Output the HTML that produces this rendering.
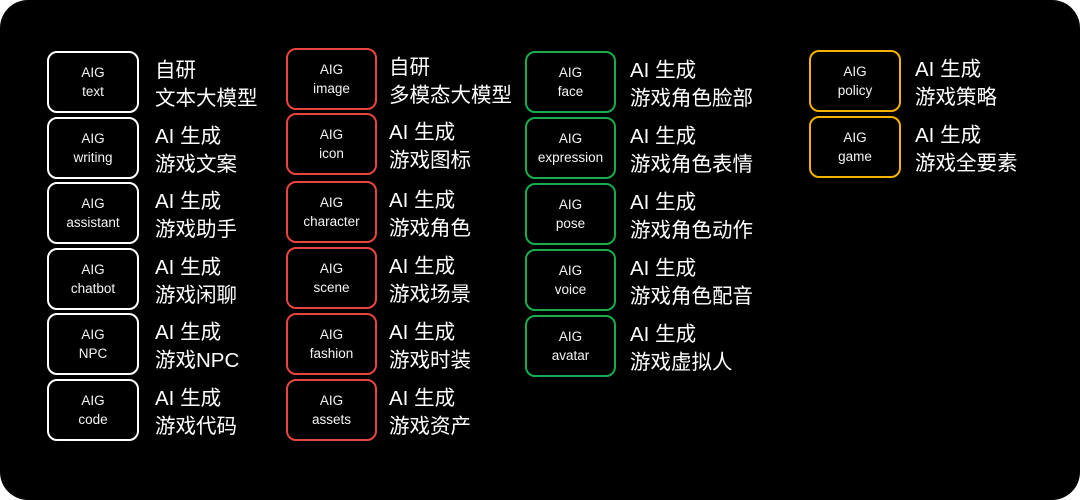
<!DOCTYPE html>
<html>
<head>
<meta charset="utf-8">
<style>
  html,body{margin:0;padding:0;background:#fff;}
  body{width:1080px;height:500px;position:relative;overflow:hidden;}
  .bg{position:absolute;left:0;top:0;width:1080px;height:500px;background:#000;border-radius:28px;}
  .box{position:absolute;box-sizing:border-box;height:62px;border:2px solid #fff;border-radius:10px;}
  .box .t{position:absolute;left:0;right:0;top:10px;text-align:center;color:#f4f4f4;
    font-family:"Liberation Sans",sans-serif;font-size:13.5px;line-height:19px;}
  .w{border-color:#ffffff;}
  .r{border-color:#e8453f;}
  .g{border-color:#17ad4c;}
  .y{border-color:#f2b200;}
  .lb{position:absolute;color:#fff;font-family:"Liberation Sans","Noto Sans CJK SC",sans-serif;
    font-size:20.5px;line-height:28px;white-space:nowrap;}
</style>
</head>
<body>
<div class="bg"></div>

<!-- Column 1 (white) -->
<div class="box w" style="left:47px;top:51px;width:92px;"><div class="t">AIG<br>text</div></div>
<div class="lb" style="left:155px;top:57px;">自研<br>文本大模型</div>

<div class="box w" style="left:47px;top:117px;width:92px;"><div class="t">AIG<br>writing</div></div>
<div class="lb" style="left:155px;top:123px;">AI 生成<br>游戏文案</div>

<div class="box w" style="left:47px;top:182px;width:92px;"><div class="t">AIG<br>assistant</div></div>
<div class="lb" style="left:155px;top:188px;">AI 生成<br>游戏助手</div>

<div class="box w" style="left:47px;top:248px;width:92px;"><div class="t">AIG<br>chatbot</div></div>
<div class="lb" style="left:155px;top:254px;">AI 生成<br>游戏闲聊</div>

<div class="box w" style="left:47px;top:313px;width:92px;"><div class="t">AIG<br>NPC</div></div>
<div class="lb" style="left:155px;top:319px;">AI 生成<br>游戏NPC</div>

<div class="box w" style="left:47px;top:379px;width:92px;"><div class="t">AIG<br>code</div></div>
<div class="lb" style="left:155px;top:385px;">AI 生成<br>游戏代码</div>

<!-- Column 2 (red) -->
<div class="box r" style="left:286px;top:48px;width:91px;"><div class="t">AIG<br>image</div></div>
<div class="lb" style="left:389px;top:54px;">自研<br>多模态大模型</div>

<div class="box r" style="left:286px;top:113px;width:91px;"><div class="t">AIG<br>icon</div></div>
<div class="lb" style="left:389px;top:119px;">AI 生成<br>游戏图标</div>

<div class="box r" style="left:286px;top:181px;width:91px;"><div class="t">AIG<br>character</div></div>
<div class="lb" style="left:389px;top:187px;">AI 生成<br>游戏角色</div>

<div class="box r" style="left:286px;top:247px;width:91px;"><div class="t">AIG<br>scene</div></div>
<div class="lb" style="left:389px;top:253px;">AI 生成<br>游戏场景</div>

<div class="box r" style="left:286px;top:313px;width:91px;"><div class="t">AIG<br>fashion</div></div>
<div class="lb" style="left:389px;top:319px;">AI 生成<br>游戏时装</div>

<div class="box r" style="left:286px;top:379px;width:91px;"><div class="t">AIG<br>assets</div></div>
<div class="lb" style="left:389px;top:385px;">AI 生成<br>游戏资产</div>

<!-- Column 3 (green) -->
<div class="box g" style="left:525px;top:51px;width:91px;"><div class="t">AIG<br>face</div></div>
<div class="lb" style="left:630px;top:57px;">AI 生成<br>游戏角色脸部</div>

<div class="box g" style="left:525px;top:117px;width:91px;"><div class="t">AIG<br>expression</div></div>
<div class="lb" style="left:630px;top:123px;">AI 生成<br>游戏角色表情</div>

<div class="box g" style="left:525px;top:183px;width:91px;"><div class="t">AIG<br>pose</div></div>
<div class="lb" style="left:630px;top:189px;">AI 生成<br>游戏角色动作</div>

<div class="box g" style="left:525px;top:249px;width:91px;"><div class="t">AIG<br>voice</div></div>
<div class="lb" style="left:630px;top:255px;">AI 生成<br>游戏角色配音</div>

<div class="box g" style="left:525px;top:315px;width:91px;"><div class="t">AIG<br>avatar</div></div>
<div class="lb" style="left:630px;top:321px;">AI 生成<br>游戏虚拟人</div>

<!-- Column 4 (yellow) -->
<div class="box y" style="left:809px;top:50px;width:92px;"><div class="t">AIG<br>policy</div></div>
<div class="lb" style="left:915px;top:56px;">AI 生成<br>游戏策略</div>

<div class="box y" style="left:809px;top:116px;width:92px;"><div class="t">AIG<br>game</div></div>
<div class="lb" style="left:915px;top:122px;">AI 生成<br>游戏全要素</div>

</body>
</html>
